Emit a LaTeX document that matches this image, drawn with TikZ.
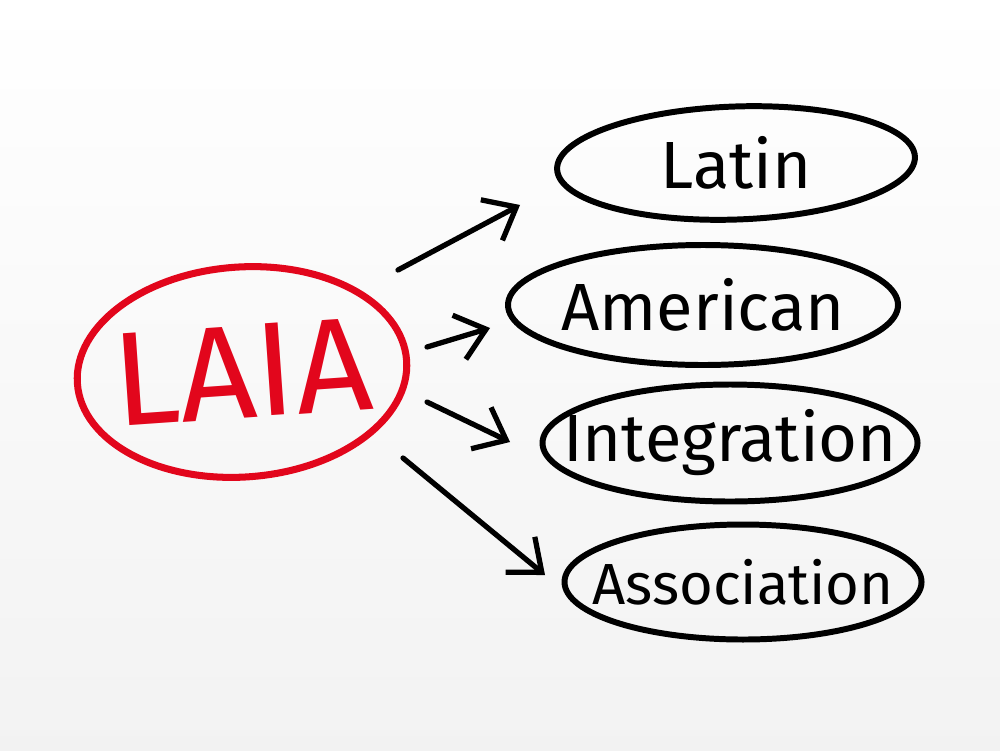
\documentclass[tikz,border=0pt]{standalone}
\usepackage{fontspec}
\setmainfont{Fira Sans}
\usetikzlibrary{shapes.geometric,arrows.meta}

\definecolor{laiared}{HTML}{E2061C}
\tikzset{
  word/.style={ellipse, draw=black, line width=1.7pt, inner sep=0pt},
  wordtext/.style={font=\fontsize{19}{22}\selectfont},
  arr/.style={-{Straight Barb[length=2.8mm,width=4.6mm]}, line width=1.5pt, line cap=round},
}

\begin{document}
\begin{tikzpicture}
  \shade[top color=white, bottom color=black!5] (0,0) rectangle (10,7.5);
  \useasboundingbox (0,0) rectangle (10,7.5);
  \node[ellipse, draw=laiared, line width=2pt, inner sep=0pt, minimum width=3.3cm,
    minimum height=2.1cm, rotate=4,
    label={[text=laiared, font=\fontsize{38}{44}\selectfont, rotate=4]center:LAIA}]
    (laia) at (2.42,3.78) {};
  \node[word, minimum width=3.58cm, minimum height=1.13cm, rotate=2,
    label={[wordtext]center:Latin}] (latin) at (7.36,5.87) {};
  \node[word, minimum width=3.9cm, minimum height=1.2cm,
    label={[wordtext]center:American}] (american) at (7.03,4.45) {};
  \node[word, minimum width=3.75cm, minimum height=1.17cm,
    label={[wordtext]center:Integration}] (integration) at (7.30,3.07) {};
  \node[word, minimum width=3.57cm, minimum height=1.15cm,
    label={[wordtext, font=\fontsize{16.5}{20}\selectfont]center:Association}] (association) at (7.43,1.68) {};
  \coordinate (S1) at (3.98,4.80); \coordinate (E1) at (5.20,5.45);
  \coordinate (S2) at (4.27,4.03); \coordinate (E2) at (4.90,4.22);
  \coordinate (S3) at (4.27,3.48); \coordinate (E3) at (5.10,3.08);
  \coordinate (S4) at (4.03,2.92); \coordinate (E4) at (5.45,1.75);
  \path[arr] (S1) edge (E1);
  \path[arr] (S2) edge (E2);
  \path[arr] (S3) edge (E3);
  \path[arr] (S4) edge (E4);
\end{tikzpicture}
\end{document}
